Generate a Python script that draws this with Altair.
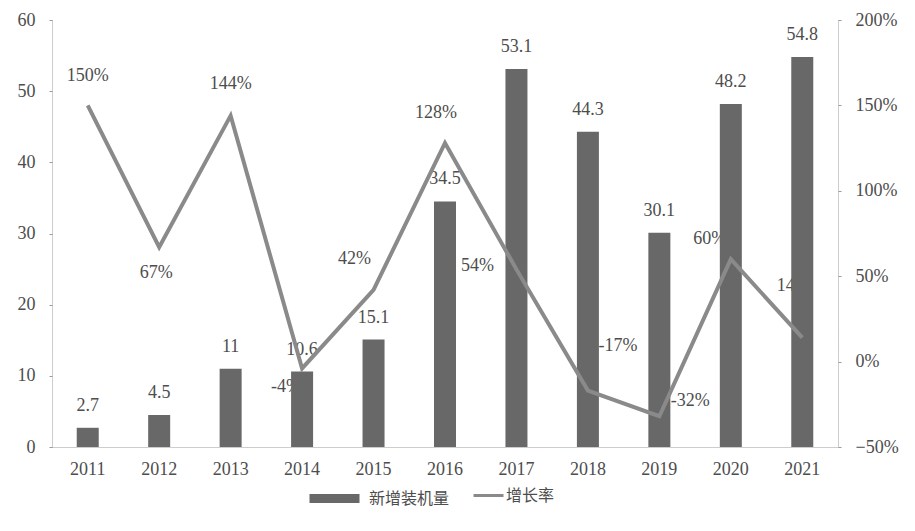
import altair as alt
import pandas as pd

years = ["2011", "2012", "2013", "2014", "2015", "2016", "2017", "2018", "2019", "2020", "2021"]
capacity = [2.7, 4.5, 11, 10.6, 15.1, 34.5, 53.1, 44.3, 30.1, 48.2, 54.8]
growth = [1.50, 0.67, 1.44, -0.04, 0.42, 1.28, 0.54, -0.17, -0.32, 0.60, 0.14]
growth_labels = ["150%", "67%", "144%", "-4%", "42%", "128%", "54%", "-17%", "-32%", "60%", "14%"]
cap_labels = ["2.7", "4.5", "11", "10.6", "15.1", "34.5", "53.1", "44.3", "30.1", "48.2", "54.8"]

# label placement offsets (dx, dy) per year for growth labels
label_offsets = {
    "2011": (0, -29), "2012": (-3, 26), "2013": (0, -32), "2014": (-16, 19),
    "2015": (-19, -31), "2016": (-9, -30), "2017": (-39, -3), "2018": (30, -45),
    "2019": (31, -15), "2020": (-21, -20), "2021": (-9, -52),
}

df = pd.DataFrame({
    "year": years, "cap": capacity, "growth": growth,
    "glabel": growth_labels, "clabel": cap_labels,
    "s_bar": ["新增装机量"] * len(years), "s_line": ["增长率"] * len(years),
})

BAR = "#686868"
LINE = "#8a8a8a"
TXT = "#4d4d4d"
SERIF = "Liberation Serif"
CJK = "Noto Sans CJK SC"

x = alt.X("year:O", scale=alt.Scale(paddingInner=0, paddingOuter=0),
          axis=alt.Axis(title=None, labelAngle=0, tickSize=0, labelPadding=13,
                        labelFont=SERIF, labelFontSize=18, labelColor=TXT,
                        domainColor="#9a9a9a", domainDash=[1, 1]))

CAP_SCALE = alt.Scale(domain=[0, 60])
GR_SCALE = alt.Scale(domain=[-0.5, 2.0])

yl = alt.Y("cap:Q", scale=CAP_SCALE,
           axis=alt.Axis(title=None, values=[0, 10, 20, 30, 40, 50, 60], grid=False,
                         tickSize=3, tickColor="#9a9a9a", labelPadding=14,
                         labelFont=SERIF, labelFontSize=18, labelColor=TXT,
                         domainColor="#9a9a9a", domainDash=[1, 1]))

yr = alt.Y("growth:Q", scale=GR_SCALE,
           axis=alt.Axis(title=None, orient="right", values=[-0.5, 0, 0.5, 1.0, 1.5, 2.0],
                         format=".0%", grid=False, tickSize=3, tickColor="#9a9a9a",
                         labelPadding=14, labelFont=SERIF, labelFontSize=18,
                         labelColor=TXT, domainColor="#9a9a9a", domainDash=[1, 1]))

bar_legend = alt.Legend(
    title=None, orient="none", legendX=253, legendY=449,
    symbolType="stroke", symbolSize=2500, symbolStrokeWidth=9,
    symbolStrokeColor=BAR, symbolFillColor=BAR,
    labelFont=CJK, labelFontSize=16, labelColor=TXT, labelOffset=5)

line_legend = alt.Legend(
    title=None, orient="none", legendX=420, legendY=459,
    symbolType="stroke", symbolSize=900, symbolStrokeWidth=3,
    symbolStrokeColor=LINE,
    labelFont=CJK, labelFontSize=16, labelColor=TXT, labelOffset=1)

bars = alt.Chart(df).mark_bar(size=22).encode(
    x=x, y=yl,
    color=alt.Color("s_bar:N", scale=alt.Scale(domain=["新增装机量"], range=[BAR]),
                    legend=bar_legend))

bar_text = alt.Chart(df).mark_text(font=SERIF, fontSize=18, color=TXT, dy=-17,
                                   baseline="alphabetic").encode(
    x=x, y=alt.Y("cap:Q", scale=CAP_SCALE, axis=None), text="clabel:N")

glabel_layers = []
for yv, (dx, dy) in label_offsets.items():
    glabel_layers.append(
        alt.Chart(df).transform_filter(alt.datum.year == yv).mark_text(
            font=SERIF, fontSize=18, color=TXT, dx=dx, dy=dy, baseline="middle"
        ).encode(x=x, y=alt.Y("growth:Q", scale=GR_SCALE, axis=None),
                 text="glabel:N"))
glabels = alt.layer(*glabel_layers)

line = alt.Chart(df).mark_line(strokeWidth=4, strokeJoin="miter").encode(
    x=x, y=yr,
    stroke=alt.Stroke("s_line:N", scale=alt.Scale(domain=["增长率"], range=[LINE]),
                      legend=line_legend))

chart = alt.layer(glabels, bars, bar_text, line).resolve_scale(y="independent")

chart = chart.properties(
    width=786, height=427,
    padding={"left": 44, "top": 12, "right": 69, "bottom": 78},
    autosize=alt.AutoSizeParams(type="none"),
    background="white",
).configure_view(stroke=None)

chart.save("out.html", embed_options={"renderer": "svg", "actions": False})
